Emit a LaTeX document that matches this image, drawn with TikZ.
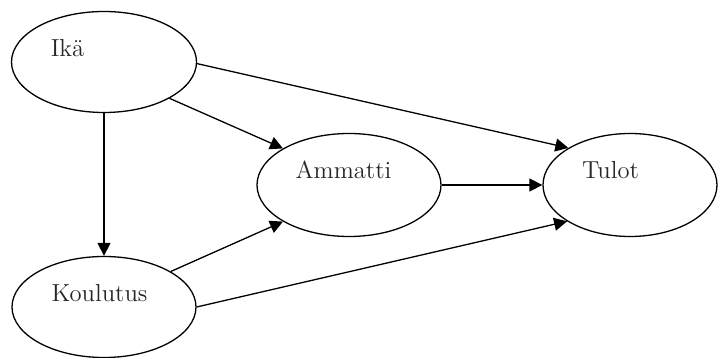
\documentclass[tikz,border=0pt]{standalone}
\usetikzlibrary{shapes.geometric,arrows.meta}

\tikzset{
    blob/.style={draw, ellipse, line width=0.65pt, inner sep=0pt},
    lbl/.style={anchor=base, text=black!85, font=\fontsize{12.3}{14}\selectfont},
    arr/.style={-{Triangle[length=6.5pt,width=6.5pt]}, line width=0.65pt}
}

\begin{document}
\begin{tikzpicture}[x=0.5pt, y=-0.5pt]

    % canvas
    \useasboundingbox (0,0) rectangle (718,358);

    % ellipses
    \node[blob, minimum width=92.5pt, minimum height=50.5pt] (ika) at (104,62) {};
    \node[blob, minimum width=92pt, minimum height=50.5pt] (koulutus) at (104,307) {};
    \node[blob, minimum width=92pt, minimum height=51.5pt] (ammatti) at (349,185) {};
    \node[blob, minimum width=87pt, minimum height=51.5pt] (tulot) at (630,185) {};

    % texts, set up and left in the ellipses
    \node[lbl] (ikatext) at (67.5,57) {Ikä};
    \node[lbl] (koulutustext) at (99.5,301) {Koulutus};
    \node[lbl] (ammattitext) at (343.5,178) {Ammatti};
    \node[lbl] (tulottext) at (610.5,178) {Tulot};

    % arrows
    \draw[arr] (ika.-90) -- (koulutus.90);
    \draw[arr] (ika.-29.5) -- (ammatti.151);
    \draw[arr] (ika.-1) -- (tulot.149);
    \draw[arr] (koulutus.28.6) -- (ammatti.-151);
    \draw[arr] (koulutus.0) -- (tulot.-150);
    \draw[arr] (ammatti.0) -- (tulot.180);

\end{tikzpicture}
\end{document}
